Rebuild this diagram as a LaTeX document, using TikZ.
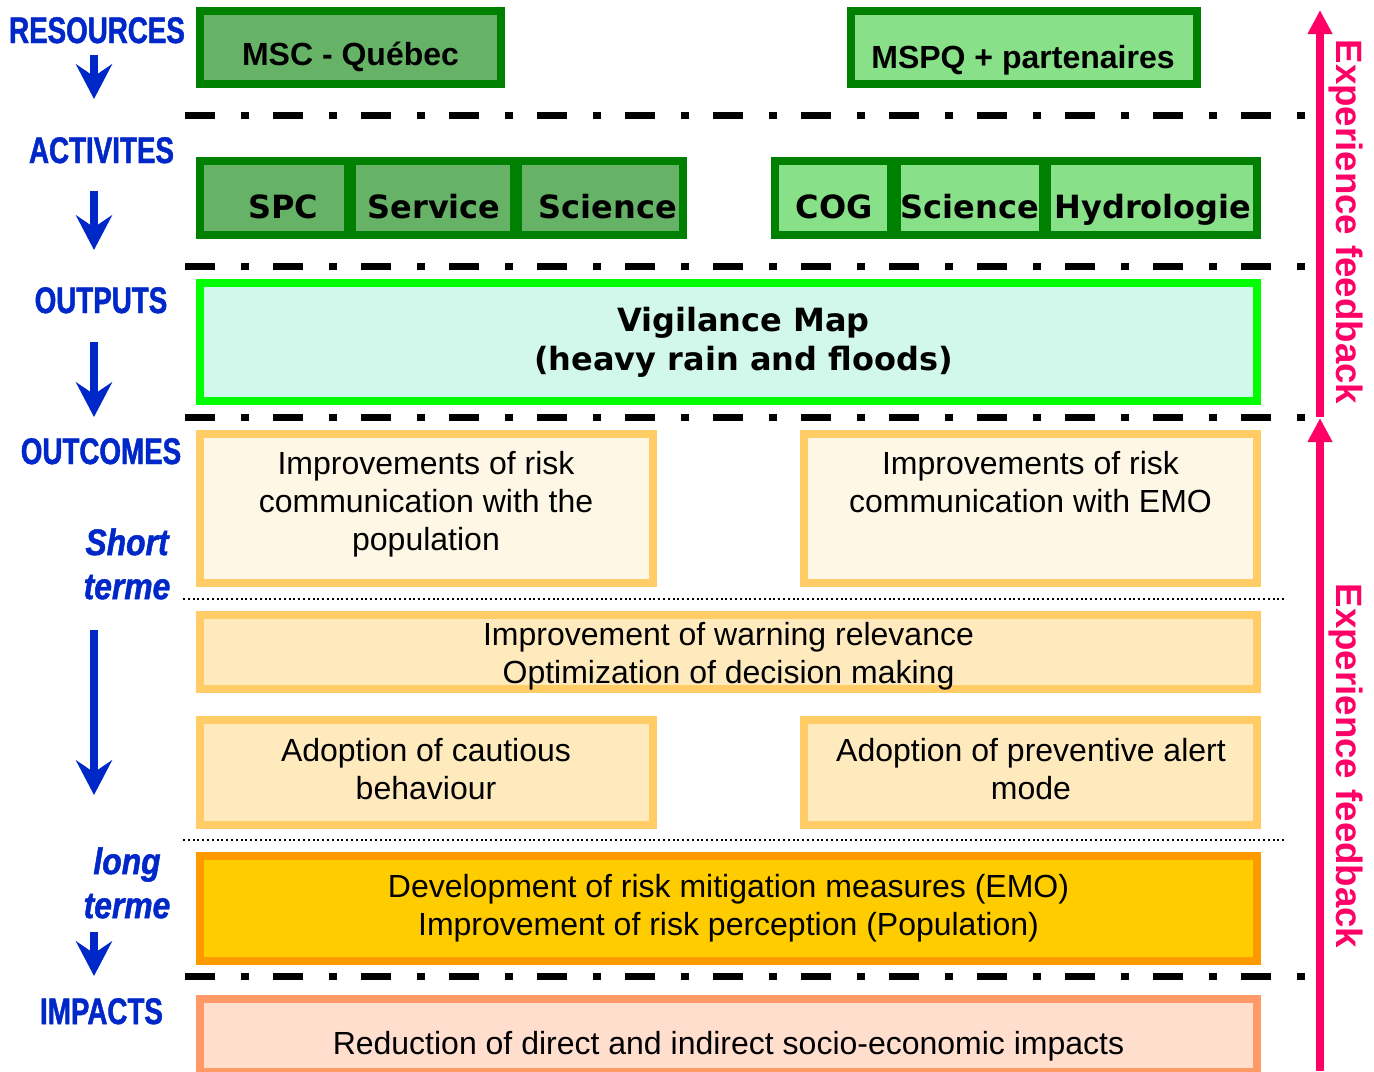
\documentclass[tikz,border=0pt]{standalone}
\usepackage{fontspec}
\setmainfont{Liberation Sans}
\newfontfamily\lblfont[FakeStretch=0.75,FakeBold=1.3]{Liberation Sans}
\newfontfamily\lblitfont[FakeStretch=0.86,FakeBold=1.3]{Liberation Sans}
\newfontfamily\wfont{DejaVu Sans}
\usetikzlibrary{arrows.meta}
\definecolor{lblue}{RGB}{0,40,200}
\definecolor{pinkc}{RGB}{255,0,102}
\definecolor{dkgreen}{RGB}{0,128,0}
\definecolor{gfillA}{RGB}{102,178,102}
\definecolor{gfillB}{RGB}{136,224,136}
\definecolor{brgreen}{RGB}{0,255,0}
\definecolor{vigfill}{RGB}{210,248,236}
\definecolor{orA}{RGB}{255,204,102}
\definecolor{orfillA}{RGB}{255,247,230}
\definecolor{orfillB}{RGB}{255,234,190}
\definecolor{orB}{RGB}{255,153,0}
\definecolor{orfillC}{RGB}{255,204,0}
\definecolor{salm}{RGB}{255,153,102}
\definecolor{salmfill}{RGB}{255,222,206}
\tikzset{
  box/.style={rectangle, line width=6pt, inner sep=0pt, outer sep=0pt},
  gdark/.style={box, draw=dkgreen, fill=gfillA},
  glight/.style={box, draw=dkgreen, fill=gfillB},
  vigbox/.style={box, draw=brgreen, fill=vigfill},
  obox/.style={box, draw=orA, fill=orfillA},
  obox2/.style={box, draw=orA, fill=orfillB},
  lbox/.style={box, draw=orB, fill=orfillC},
  ibox/.style={box, draw=salm, fill=salmfill},
  lbl/.style={text=lblue, font=\lblfont\bfseries\fontsize{27.75}{33}\selectfont, anchor=base, inner sep=0pt},
  lblit/.style={text=lblue, font=\lblitfont\bfseries\itshape\fontsize{27.75}{33}\selectfont, align=center, anchor=north, inner sep=0pt},
  btxt/.style={font=\bfseries\fontsize{24}{28.5}\selectfont, anchor=base, inner sep=0pt},
  wtxt/.style={font=\wfont\bfseries\fontsize{24}{28.5}\selectfont, anchor=base, inner sep=0pt},
  vtxt/.style={font=\wfont\bfseries\fontsize{24}{29.25}\selectfont, align=center, anchor=north, inner sep=0pt},
  otxt/.style={font=\fontsize{24}{28.5}\selectfont, align=center, anchor=north, inner sep=0pt},
  sep/.style={line width=5.25pt, dash pattern=on 22.5pt off 19.5pt on 6pt off 18pt},
  thinsep/.style={line width=1.5pt, dash pattern=on 1.5pt off 2.1pt},
  down/.style={draw=lblue, line width=6pt, -{Stealth[length=26pt,width=27pt,inset=9pt]}},
  fb/.style={draw=pinkc, line width=5.5pt, -{Triangle[length=18pt,width=17.5pt]}},
  fbtxt/.style={text=pinkc, font=\bfseries\fontsize{27.5}{33}\selectfont, rotate=-90, anchor=base, inner sep=0pt},
}
\begin{document}
\begin{tikzpicture}[x=0.75pt, y=-0.75pt]
\useasboundingbox (0,0) rectangle (1374,1071);

% ---------- left labels ----------
\node[lbl] (lres) at (97,43) {RESOURCES};
\node[lbl] (lact) at (101.5,163) {ACTIVITES};
\node[lbl] (lout) at (101,313) {OUTPUTS};
\node[lbl] (lcom) at (101,464) {OUTCOMES};
\node[lblit] (lshort) at (127,528) {Short\\terme};
\node[lblit] (llong) at (127,847) {long\\terme};
\node[lbl] (limp) at (101.5,1024) {IMPACTS};

% ---------- blue arrows ----------
\coordinate (a1s) at (94,55);  \coordinate (a1e) at (94,99);
\coordinate (a2s) at (94,191); \coordinate (a2e) at (94,250);
\coordinate (a3s) at (94,342); \coordinate (a3e) at (94,417);
\coordinate (a4s) at (94,630); \coordinate (a4e) at (94,795);
\coordinate (a5s) at (94,932); \coordinate (a5e) at (94,976);
\draw[down] (a1s) -- (a1e);
\draw[down] (a2s) -- (a2e);
\draw[down] (a3s) -- (a3e);
\draw[down] (a4s) -- (a4e);
\draw[down] (a5s) -- (a5e);

% ---------- separators ----------
\coordinate (s1l) at (185,115); \coordinate (s1r) at (1305,115);
\coordinate (s2l) at (185,266); \coordinate (s2r) at (1305,266);
\coordinate (s3l) at (185,417); \coordinate (s3r) at (1305,417);
\coordinate (s4l) at (185,976); \coordinate (s4r) at (1305,976);
\draw[sep] (s1l) -- (s1r);
\draw[sep] (s2l) -- (s2r);
\draw[sep] (s3l) -- (s3r);
\draw[sep] (s4l) -- (s4r);
\coordinate (t1l) at (183,599); \coordinate (t1r) at (1285,599);
\coordinate (t2l) at (183,840); \coordinate (t2r) at (1285,840);
\draw[thinsep] (t1l) -- (t1r);
\draw[thinsep] (t2l) -- (t2r);

% ---------- resources ----------
\node[gdark, minimum width=225.75pt, minimum height=54.75pt] (msc) at (350.5,47.5) {};
\node[btxt] (tmsc) at (350.5,65) {MSC - Québec};
\node[glight, minimum width=259.5pt, minimum height=54.75pt] (mspq) at (1024,47.5) {};
\node[btxt] (tmspq) at (1023,68) {MSPQ + partenaires};

% ---------- activities ----------
\node[gdark, minimum width=111pt, minimum height=55.5pt] (spc) at (274,198) {};
\node[gdark, minimum width=121.5pt, minimum height=55.5pt] (serv) at (433,198) {};
\node[gdark, minimum width=123.75pt, minimum height=55.5pt] (sci1) at (600.5,198) {};
\node[glight, minimum width=87pt, minimum height=55.5pt] (cog) at (833,198) {};
\node[glight, minimum width=109.5pt, minimum height=55.5pt] (sci2) at (970,198) {};
\node[glight, minimum width=157.5pt, minimum height=55.5pt] (hyd) at (1152,198) {};
\node[wtxt] (tspc) at (283,218) {SPC};
\node[wtxt] (tserv) at (434,218) {Service};
\node[wtxt] (tsci1) at (608,218) {Science};
\node[wtxt] (tcog) at (834,218) {COG};
\node[wtxt] (tsci2) at (970,218) {Science};
\node[wtxt] (thyd) at (1153,218) {Hydrologie};

% ---------- outputs ----------
\node[vigbox, minimum width=792.75pt, minimum height=88.5pt] (vig) at (728.5,342) {};
\node[vtxt] (tvig) at (743.5,306.5) {Vigilance Map\\(heavy rain and floods)};

% ---------- outcomes ----------
\node[obox, minimum width=339.75pt, minimum height=111.75pt] (o1) at (426.5,508.5) {};
\node[otxt] (to1) at (426,451) {Improvements of risk\\communication with the\\population};
\node[obox, minimum width=339.75pt, minimum height=111.75pt] (o2) at (1030.5,508.5) {};
\node[otxt] (to2) at (1030.5,451) {Improvements of risk\\communication with EMO};
\node[obox2, minimum width=792.75pt, minimum height=55.5pt] (o3) at (728.5,652) {};
\node[otxt] (to3) at (728.5,622) {Improvement of warning relevance\\Optimization of decision making};
\node[obox2, minimum width=339.75pt, minimum height=78.75pt] (o4) at (426.5,772.5) {};
\node[otxt] (to4) at (426,738) {Adoption of cautious\\behaviour};
\node[obox2, minimum width=339.75pt, minimum height=78.75pt] (o5) at (1030.5,772.5) {};
\node[otxt] (to5) at (1031,738) {Adoption of preventive alert\\mode};
\node[lbox, minimum width=792.75pt, minimum height=78.75pt] (o6) at (728.5,908.5) {};
\node[otxt] (to6) at (728.5,874) {Development of risk mitigation measures (EMO)\\Improvement of risk perception (Population)};

% ---------- impacts ----------
\node[ibox, minimum width=792.75pt, minimum height=54.75pt] (imp) at (728.5,1035.5) {};
\node[btxt, font=\fontsize{24}{28.5}\selectfont] (timp) at (728.5,1054.5) {Reduction of direct and indirect socio-economic impacts};

% ---------- experience feedback ----------
\coordinate (f1s) at (1320,417); \coordinate (f1e) at (1320,10);
\coordinate (f2s) at (1320,1071); \coordinate (f2e) at (1320,418);
\draw[fb] (f1s) -- (f1e);
\draw[fb] (f2s) -- (f2e);
\node[fbtxt] (tfb1) at (1336,222) {Experience feedback};
\node[fbtxt] (tfb2) at (1336,766) {Experience feedback};
\end{tikzpicture}
\end{document}
